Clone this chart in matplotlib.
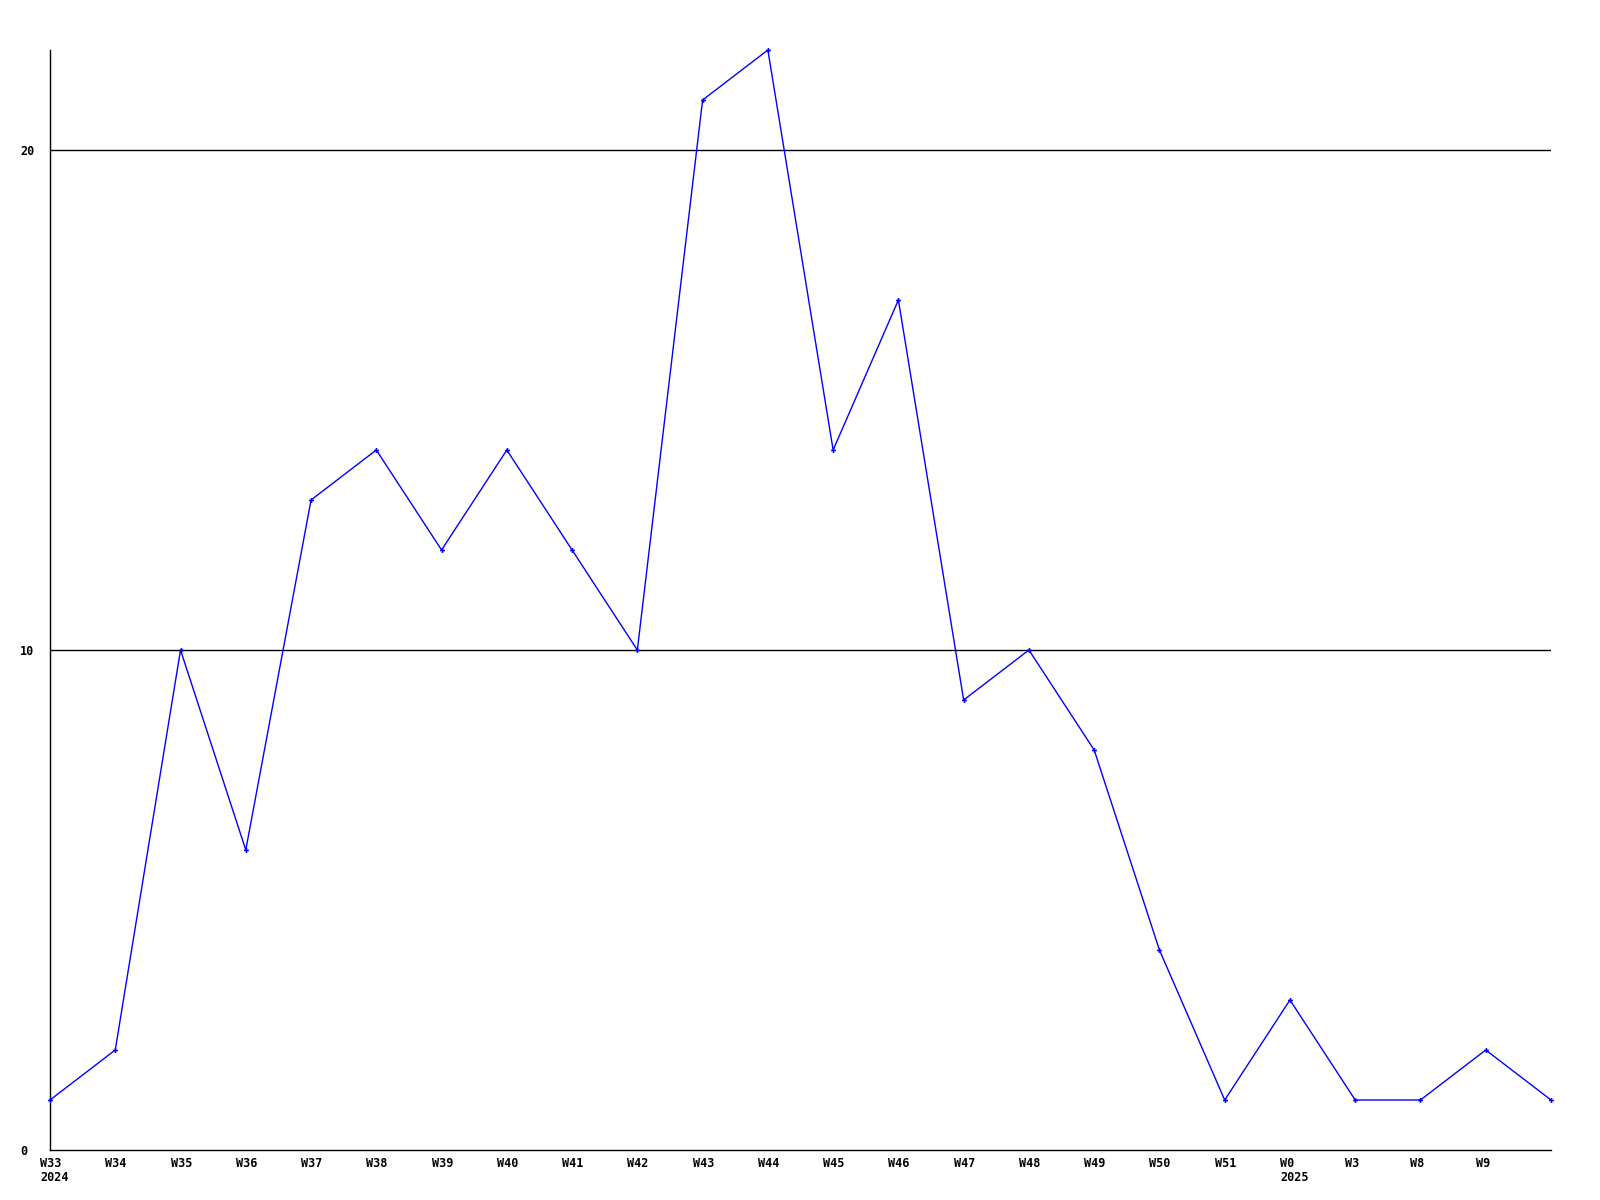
import matplotlib
matplotlib.use('Agg')
import matplotlib.pyplot as plt
from matplotlib.transforms import ScaledTranslation

weeks = ['W33\n2024', 'W34', 'W35', 'W36', 'W37', 'W38', 'W39', 'W40', 'W41', 'W42',
         'W43', 'W44', 'W45', 'W46', 'W47', 'W48', 'W49', 'W50', 'W51', 'W0\n2025',
         'W3', 'W8', 'W9']
values = [1, 2, 10, 6, 13, 14, 12, 14, 12, 10, 21, 22, 14, 17, 9, 10, 8, 4, 1, 3, 1, 1, 2, 1]
y_ticks = [0, 10, 20]

fig = plt.figure(figsize=(16, 12), dpi=100)
ax = fig.add_axes([50 / 1600, 1 - 1150 / 1200, 1501 / 1600, 1100 / 1200])

x = list(range(len(values)))
ax.plot(x, values, color='#0000ff', linewidth=1, marker='P', markersize=3.5,
        markeredgewidth=0, clip_on=False, zorder=3)

for v in y_ticks[1:]:
    ax.axhline(v, color='black', linewidth=1, zorder=1)

ax.set_xlim(0, len(values) - 1)
ax.set_ylim(0, 22)

ax.set_xticks(range(len(weeks)))
ax.set_xticklabels(weeks, ha='left', family='DejaVu Sans Mono', weight='bold',
                   fontsize=8.5, linespacing=1.15)
ax.set_yticks(y_ticks)
ax.set_yticklabels([str(v) for v in y_ticks], family='DejaVu Sans Mono',
                   weight='bold', fontsize=8.5, ha='left')
ax.tick_params(axis='both', length=0)
ax.tick_params(axis='x', pad=5)
ax.tick_params(axis='y', pad=21.5)

# shift x labels a little to the left of their tick
shift = ScaledTranslation(-10 / 100, 0, fig.dpi_scale_trans)
for lab in ax.get_xticklabels():
    lab.set_transform(lab.get_transform() + shift)

for s in ['top', 'right']:
    ax.spines[s].set_visible(False)
for s in ['left', 'bottom']:
    ax.spines[s].set_color('black')
    ax.spines[s].set_linewidth(1)

fig.savefig('out.png', dpi=100)
